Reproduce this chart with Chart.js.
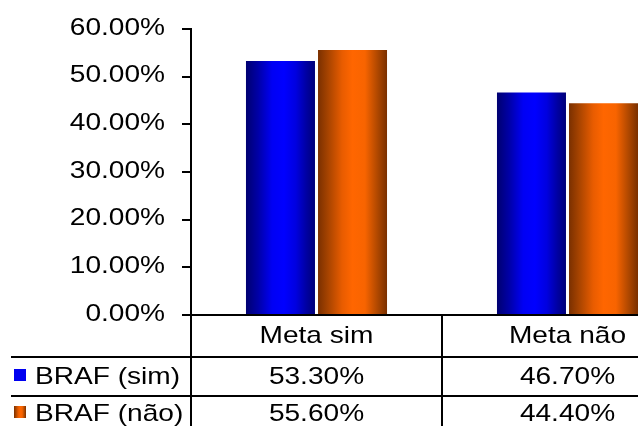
<!DOCTYPE html>
<html>
<head>
<meta charset="utf-8">
<script src="https://cdn.jsdelivr.net/npm/chart.js@4.4.1/dist/chart.umd.min.js"></script>
<style>
	html, body { margin: 0; padding: 0; background: #fff; }
	.wrap { width: 638px; height: 426px; overflow: hidden; position: relative; }
	#braf { display: block; }
</style>
</head>
<body>
<div class="wrap">
	<canvas id="braf" width="700" height="426"></canvas>
</div>
<script>
// 데이터
const categories = ['Meta sim', 'Meta não'];
const seriesNames = ['BRAF (sim)', 'BRAF (não)'];
const brafSim = [53.30, 46.70];
const brafNao = [55.60, 44.40];
const yTickLabels = ['0.00%', '10.00%', '20.00%', '30.00%', '40.00%', '50.00%', '60.00%'];

const FONT = '24px "Liberation Sans", Arial, sans-serif';
const STRETCH = 1.17;
const CAT_PCT = 0.574;
const BAR_PCT = 0.958;

// 막대용 세로 띠 그라데이션 (원통 느낌)
const barStops = [
	[[0, '#000070'], [0.18, '#0000a8'], [0.38, '#0000f4'], [0.55, '#0000ff'], [0.72, '#0000e0'], [0.88, '#0000a0'], [1, '#000078']],
	[[0, '#7a3000'], [0.15, '#a84400'], [0.35, '#e85c00'], [0.5, '#ff6600'], [0.68, '#f86400'], [0.86, '#b04800'], [1, '#7a3000']]
];

function makeGradient(ctx, x0, x1, stops) {
	const g = ctx.createLinearGradient(x0, 0, x1, 0);
	stops.forEach(s => g.addColorStop(s[0], s[1]));
	return g;
}

// 막대마다 따로 그라데이션 (x 스케일 기준으로 막대 위치 계산)
function barFill(c) {
	const chart = c.chart;
	const x = chart.scales.x;
	const fallback = barStops[c.datasetIndex][3][1];
	if (!x || c.dataIndex === undefined) return fallback;
	const catW = x.width / chart.data.labels.length;
	const slot = catW * CAT_PCT / chart.data.datasets.length;
	const center = x.getPixelForValue(c.dataIndex) + (c.datasetIndex - 0.5) * slot;
	const half = slot * BAR_PCT / 2;
	if (!isFinite(center) || !isFinite(half) || half <= 0) return fallback;
	return makeGradient(chart.ctx, center - half, center + half, barStops[c.datasetIndex]);
}

function drawText(ctx, text, x, y, align) {
	ctx.save();
	ctx.translate(x, y);
	ctx.scale(STRETCH, 1);
	ctx.textAlign = align;
	ctx.textBaseline = 'middle';
	ctx.fillText(text, 0, 0);
	ctx.restore();
}

// y축 라벨 + 아래 데이터 테이블
const dataTable = {
	id: 'dataTable',
	afterDraw(chart) {
		const ctx = chart.ctx;
		const x = chart.scales.x;
		const y = chart.scales.y;
		const area = chart.chartArea;
		const bottom = chart.height;
		const row1 = 357, row2 = 396;

		ctx.save();
		ctx.fillStyle = '#000';
		ctx.font = FONT;

		// y축 눈금 라벨
		y.ticks.forEach((t, i) => {
			drawText(ctx, yTickLabels[i], 165, y.getPixelForValue(t.value) - 1, 'right');
		});

		// 선
		ctx.strokeStyle = '#000';
		ctx.lineWidth = 2;
		ctx.beginPath();
		ctx.moveTo(area.left, area.bottom);
		ctx.lineTo(area.left, bottom);
		const mid = (x.getPixelForValue(0) + x.getPixelForValue(1)) / 2;
		ctx.moveTo(mid, area.bottom);
		ctx.lineTo(mid, bottom);
		ctx.moveTo(11, row1);
		ctx.lineTo(chart.width, row1);
		ctx.moveTo(11, row2);
		ctx.lineTo(chart.width, row2);
		ctx.stroke();

		// 헤더 + 값
		const seriesVals = [brafSim, brafNao];
		const rowMid = [377, 414];
		categories.forEach((c, i) => {
			const cx = x.getPixelForValue(i);
			drawText(ctx, c, cx, 336, 'center');
			seriesVals.forEach((vals, s) => {
				drawText(ctx, vals[i].toFixed(2) + '%', cx, rowMid[s], 'center');
			});
		});

		// 범례 키 + 시리즈 이름
		seriesNames.forEach((name, s) => {
			const top = rowMid[s] - 8;
			ctx.fillStyle = s === 0 ? '#0000f0' : makeGradient(ctx, 14, 26, barStops[s]);
			ctx.fillRect(14, top, 12, 12);
			ctx.fillStyle = '#000';
			drawText(ctx, name, 35, rowMid[s], 'left');
		});
		ctx.restore();
	}
};

new Chart(document.getElementById('braf'), {
	type: 'bar',
	data: {
		labels: categories,
		datasets: [
			{ label: seriesNames[0], data: brafSim, backgroundColor: barFill, borderWidth: 0 },
			{ label: seriesNames[1], data: brafNao, backgroundColor: barFill, borderWidth: 0 }
		]
	},
	options: {
		responsive: false,
		animation: false,
		events: [],
		layout: { padding: { top: 29, right: 7, left: 0, bottom: 0 } },
		plugins: {
			legend: { display: false },
			tooltip: { enabled: false }
		},
		datasets: {
			bar: { categoryPercentage: CAT_PCT, barPercentage: BAR_PCT }
		},
		scales: {
			x: {
				afterFit: (s) => { s.height = 111; },
				ticks: { display: false },
				grid: { display: false },
				border: { display: true, color: '#000', width: 2 }
			},
			y: {
				min: 0,
				max: 60,
				afterFit: (s) => { s.width = 191; },
				ticks: { display: false, stepSize: 10 },
				grid: { drawOnChartArea: false, drawTicks: true, tickLength: 9, color: '#000', lineWidth: 2 },
				border: { display: true, color: '#000', width: 2 }
			}
		}
	},
	plugins: [dataTable]
});
</script>
</body>
</html>
